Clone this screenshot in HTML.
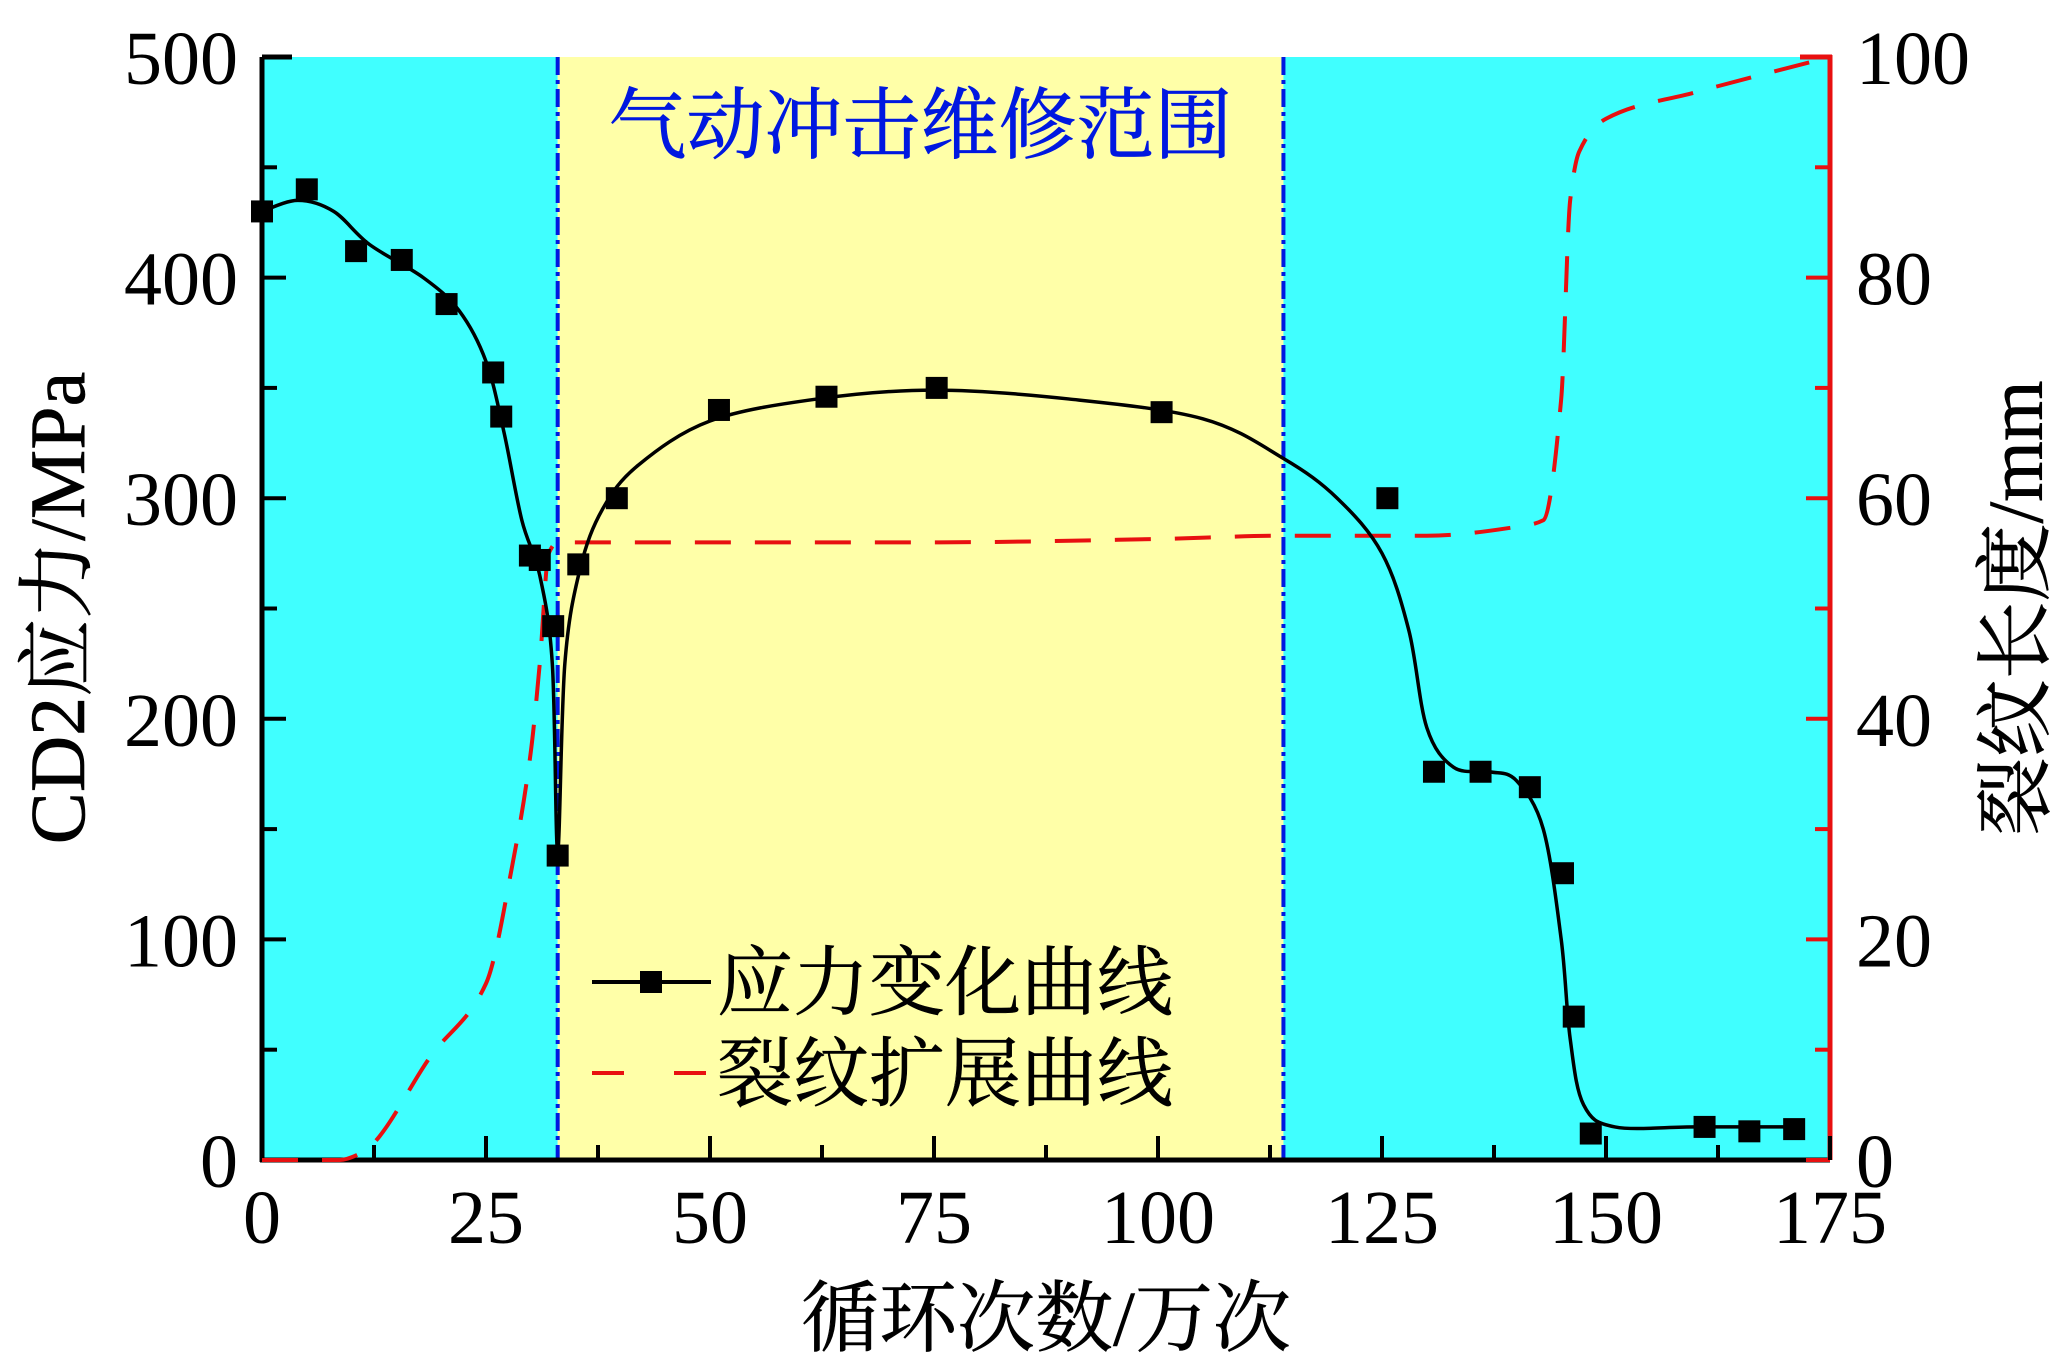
<!DOCTYPE html>
<html><head><meta charset="utf-8"><style>
html,body{margin:0;padding:0;background:#fff;}
svg{display:block;}
text{font-family:"Liberation Serif","Noto Serif CJK SC",serif;}
</style></head><body>
<svg id="chart" width="2064" height="1368" viewBox="0 0 2064 1368" xmlns="http://www.w3.org/2000/svg">
<g id="bg"></g>
<g id="axes"></g>
<g id="marks"></g>
</svg>
<script>
// data
const xTicks = [0, 25, 50, 75, 100, 125, 150, 175];
const yTicks = [0, 100, 200, 300, 400, 500];
const y2Ticks = [0, 20, 40, 60, 80, 100];
const repairStart = 33;
const repairEnd = 114;
const stressX = [0, 5, 10.5, 15.6, 20.6, 25.8, 26.7, 29.9, 31, 32.5, 33, 35.3, 39.6, 51, 63, 75.3, 100.4, 125.6, 130.8, 136, 141.5, 145.2, 146.4, 148.3, 161, 166, 171];
const stressY = [430, 440, 412, 408, 388, 357, 337, 274, 272, 242, 138, 270, 300, 340, 346, 350, 339, 300, 176, 176, 169, 130, 65, 12, 15, 13, 14];
const fitX = [0, 4, 8, 12, 18, 22, 25, 27, 29, 31, 32.4, 33, 33.8, 35.5, 38, 42, 50, 62, 75, 90, 105, 114, 120, 125, 128, 130, 133, 137, 140, 143, 145, 146, 147.5, 151, 160, 171];
const fitY = [430, 435, 430, 415, 400, 385, 362, 330, 290, 265, 225, 140, 225, 268, 295, 315, 335, 345, 349, 345, 336, 318, 300, 275, 240, 196, 178, 176, 172, 150, 100, 55, 25, 15, 15, 15];
const crackX = [0, 8.7, 11, 19, 25, 28, 30, 31, 32, 33, 50, 75, 100, 114, 130, 140, 143, 145, 146, 147, 150, 160, 175];
const crackY = [0, 0, 0.6, 9.6, 16, 27, 37, 45, 55, 56, 56, 56, 56.3, 56.6, 56.6, 57.4, 58, 69, 87, 91.4, 94.4, 96.8, 100];

const L=262, R=1830, T=57, B=1160;
const xs = v => L + v*(R-L)/175;
const ys = v => B - v*(B-T)/500;
const y2s = v => B - v*(B-T)/100;
const NS="http://www.w3.org/2000/svg";
function mk(tag, attrs, parent){const e=document.createElementNS(NS,tag);for(const k in attrs)e.setAttribute(k,attrs[k]);parent.appendChild(e);return e;}
function catmull(pts){
  let d="M"+pts[0][0]+","+pts[0][1];
  for(let i=0;i<pts.length-1;i++){
    const p0=pts[Math.max(i-1,0)],p1=pts[i],p2=pts[i+1],p3=pts[Math.min(i+2,pts.length-1)];
    const c1=[p1[0]+(p2[0]-p0[0])/6,p1[1]+(p2[1]-p0[1])/6];
    const c2=[p2[0]-(p3[0]-p1[0])/6,p2[1]-(p3[1]-p1[1])/6];
    d+=" C"+c1[0]+","+c1[1]+" "+c2[0]+","+c2[1]+" "+p2[0]+","+p2[1];
  }
  return d;
}
function monotone(pts){
  const n=pts.length, dx=[], m=[], t=[];
  for(let i=0;i<n-1;i++){dx[i]=pts[i+1][0]-pts[i][0];m[i]=(pts[i+1][1]-pts[i][1])/dx[i];}
  t[0]=m[0];t[n-1]=m[n-2];
  for(let i=1;i<n-1;i++){t[i]=(m[i-1]*m[i]<=0)?0:(dx[i-1]+dx[i])*3/((2*dx[i]+dx[i-1])/m[i-1]+(dx[i]+2*dx[i-1])/m[i]);}
  let d="M"+pts[0][0]+","+pts[0][1];
  for(let i=0;i<n-1;i++){
    const h=dx[i]/3;
    d+=" C"+(pts[i][0]+h)+","+(pts[i][1]+t[i]*h)+" "+(pts[i+1][0]-h)+","+(pts[i+1][1]-t[i+1]*h)+" "+pts[i+1][0]+","+pts[i+1][1];
  }
  return d;
}
const bg=document.getElementById('bg'), marks=document.getElementById('marks'), axes=document.getElementById('axes');
let e;
e=mk('rect',{x:L,y:T,width:xs(repairStart)-L,height:B-T,fill:'#40FFFF'},bg);


e=mk('rect',{x:xs(repairStart),y:T,width:xs(repairEnd)-xs(repairStart),height:B-T,fill:'#FFFFA8'},bg);


e=mk('rect',{x:xs(repairEnd),y:T,width:R-xs(repairEnd),height:B-T,fill:'#40FFFF'},bg);


[repairStart,repairEnd].forEach(v=>{
  const l=mk('line',{x1:xs(v),x2:xs(v),y1:T,y2:B,stroke:'#0018E0','stroke-width':4,'stroke-dasharray':'18,5,4,5'},bg);
  
  
});
e=mk('text',{x:(xs(repairStart)+xs(repairEnd))/2,y:152,'text-anchor':'middle','font-size':78,fill:'#0018E0',stroke:'#0018E0','stroke-width':0.8},bg);
e.textContent='气动冲击维修范围';



// crack curve
e=mk('path',{d:monotone(crackX.map((x,i)=>[xs(x),y2s(crackY[i])])),fill:'none',stroke:'#E81010','stroke-width':4,'stroke-dasharray':'36,24'},marks);


// stress fit curve
e=mk('path',{d:catmull(fitX.map((x,i)=>[xs(x),ys(fitY[i])])),fill:'none',stroke:'#000','stroke-width':3.5},marks);


stressX.forEach((x,i)=>{
  const r=mk('rect',{x:xs(x)-11,y:ys(stressY[i])-11,width:22,height:22,fill:'#000'},marks);
  
  
});

// axes
e=mk('line',{x1:L,x2:L,y1:T,y2:B+2,stroke:'#000','stroke-width':5},axes);


e=mk('line',{x1:L-2,x2:R,y1:B,y2:B,stroke:'#000','stroke-width':5},axes);


e=mk('line',{x1:R,x2:R,y1:T-2,y2:B,stroke:'#E81010','stroke-width':5},axes);


e=mk('line',{x1:R-30,x2:R+2,y1:T,y2:T,stroke:'#E81010','stroke-width':5},axes);


e=mk('line',{x1:L,x2:L+30,y1:T,y2:T,stroke:'#000','stroke-width':5},axes);



yTicks.forEach(v=>{
  const t=mk('line',{x1:L,x2:L+24,y1:ys(v),y2:ys(v),stroke:'#000','stroke-width':4},axes);
  
  
  if(v<500){const m=mk('line',{x1:L,x2:L+15,y1:ys(v+50),y2:ys(v+50),stroke:'#000','stroke-width':4},axes);
  
  }
  const lb=mk('text',{x:238,y:ys(v)+27,'text-anchor':'end','font-size':76,fill:'#000'},axes);
  lb.textContent=v;
  
  
});
y2Ticks.forEach(v=>{
  const t=mk('line',{x1:R-24,x2:R,y1:y2s(v),y2:y2s(v),stroke:'#E81010','stroke-width':4},axes);
  
  
  if(v<100){const m=mk('line',{x1:R-15,x2:R,y1:y2s(v+10),y2:y2s(v+10),stroke:'#E81010','stroke-width':4},axes);
  
  }
  const lb=mk('text',{x:1856,y:y2s(v)+27,'text-anchor':'start','font-size':76,fill:'#000'},axes);
  lb.textContent=v;
  
  
});
xTicks.forEach(v=>{
  const t=mk('line',{x1:xs(v),x2:xs(v),y1:B,y2:B-24,stroke:'#000','stroke-width':4},axes);
  
  
  if(v<175){const m=mk('line',{x1:xs(v+12.5),x2:xs(v+12.5),y1:B,y2:B-15,stroke:'#000','stroke-width':4},axes);
  
  }
  const lb=mk('text',{x:xs(v),y:1243,'text-anchor':'middle','font-size':76,fill:'#000'},axes);
  lb.textContent=v;
  
  
});
e=mk('text',{x:1046,y:1345,'text-anchor':'middle','font-size':78,fill:'#000',stroke:'#000','stroke-width':0.6},axes);
e.textContent='循环次数/万次';


e=mk('text',{x:0,y:0,'text-anchor':'middle','font-size':78,fill:'#000',stroke:'#000','stroke-width':0.6,transform:'translate(84,608) rotate(-90)'},axes);
e.textContent='CD2应力/MPa';


e=mk('text',{x:0,y:0,'text-anchor':'middle','font-size':78,fill:'#000',stroke:'#000','stroke-width':0.6,transform:'translate(2042,608) rotate(-90)'},axes);
e.textContent='裂纹长度/mm';



// legend
e=mk('line',{x1:592,x2:711,y1:982,y2:982,stroke:'#000','stroke-width':4},axes);


e=mk('rect',{x:640,y:971,width:22,height:22,fill:'#000'},axes);


e=mk('text',{x:717,y:1009,'font-size':76,fill:'#000',stroke:'#000','stroke-width':0.6},axes);
e.textContent='应力变化曲线';


e=mk('line',{x1:592,x2:711,y1:1073,y2:1073,stroke:'#E81010','stroke-width':4,'stroke-dasharray':'32,50'},axes);


e=mk('text',{x:717,y:1100,'font-size':76,fill:'#000',stroke:'#000','stroke-width':0.6},axes);
e.textContent='裂纹扩展曲线';


</script>
</body></html>
